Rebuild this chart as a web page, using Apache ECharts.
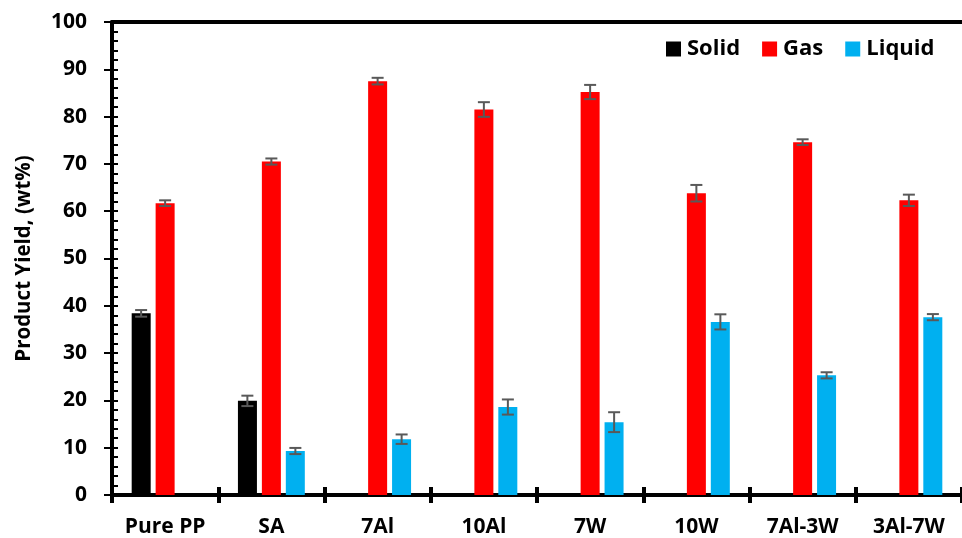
<!DOCTYPE html>
<html>
<head>
<meta charset="utf-8">
<script src="https://cdn.jsdelivr.net/npm/echarts@6/dist/echarts.min.js"></script>
<style>
  html, body { margin: 0; padding: 0; background: #fff; }
  #chart { width: 962px; height: 538px; }
</style>
</head>
<body>
<div id="chart"></div>
<script>
// Product yields (wt%) for each catalyst, with standard deviations
const categories = ['Pure PP', 'SA', '7Al', '10Al', '7W', '10W', '7Al-3W', '3Al-7W'];
const solid    = [38.4, 19.9, '-', '-', '-', '-', '-', '-'];
const solidErr = [0.7, 1.1, '-', '-', '-', '-', '-', '-'];
const gas      = [61.7, 70.5, 87.5, 81.5, 85.2, 63.8, 74.6, 62.3];
const gasErr   = [0.6, 0.65, 0.7, 1.55, 1.5, 1.75, 0.6, 1.2];
const liquid   = ['-', 9.3, 11.8, 18.6, 15.4, 36.6, 25.3, 37.6];
const liquidErr= ['-', 0.65, 1.0, 1.6, 2.1, 1.6, 0.65, 0.65];
const yTicks = { min: 0, max: 100, interval: 10 };

const FONT = 'Open Sans';
const BAR_W = 19;
const BAR_STEP = 24; // bar width + gap between bars in a group

function errorSeries(name, values, errs, slot) {
  const data = values.map((v, i) => (v === '-' ? null : [i, v, errs[i]])).filter(Boolean);
  return {
    type: 'custom',
    name: name + ' error',
    xAxisIndex: 0,
    yAxisIndex: 0,
    z: 5,
    silent: true,
    data: data,
    renderItem: function (params, api) {
      const i = api.value(0), v = api.value(1), e = api.value(2);
      const hi = api.coord([i, v + e]);
      const lo = api.coord([i, v - e]);
      const x = hi[0] + slot * BAR_STEP;
      const cap = 6;
      const style = { stroke: '#595959', lineWidth: 2 };
      return {
        type: 'group',
        children: [
          { type: 'line', shape: { x1: x, y1: hi[1], x2: x, y2: lo[1] }, style: style },
          { type: 'line', shape: { x1: x - cap, y1: hi[1], x2: x + cap, y2: hi[1] }, style: style },
          { type: 'line', shape: { x1: x - cap, y1: lo[1], x2: x + cap, y2: lo[1] }, style: style }
        ]
      };
    }
  };
}

const chart = echarts.init(document.getElementById('chart'), null, { renderer: 'canvas' });

const labelStyle = { color: '#000', fontFamily: FONT, fontWeight: 'bold', fontSize: 21 };

chart.setOption({
  animation: false,
  backgroundColor: '#fff',
  grid: { left: 112, top: 22, width: 861, height: 473, containLabel: false },
  legend: {
    left: 661,
    top: 33,
    icon: 'rect',
    itemWidth: 15,
    itemHeight: 15,
    itemGap: 22,
    data: ['Solid', 'Gas', 'Liquid'],
    textStyle: { color: '#000', fontFamily: FONT, fontWeight: 'bold', fontSize: 22, padding: [0, 0, 0, 1] }
  },
  xAxis: [
    {
      type: 'category',
      data: categories,
      position: 'bottom',
      axisLine: { show: true, lineStyle: { color: '#000', width: 4 } },
      axisTick: { show: true, interval: 0, length: 8, lineStyle: { color: '#000', width: 4 } },
      axisLabel: Object.assign({ interval: 0, margin: 22 }, labelStyle),
      splitLine: { show: false }
    },
    {
      type: 'category',
      data: categories,
      position: 'bottom',
      axisLine: { show: false },
      axisTick: { show: true, inside: true, interval: 0, length: 8, lineStyle: { color: '#000', width: 4 } },
      axisLabel: { show: false },
      splitLine: { show: false }
    },
    {
      type: 'category',
      data: categories,
      position: 'top',
      axisLine: { show: true, lineStyle: { color: '#000', width: 4 } },
      axisTick: { show: false },
      axisLabel: { show: false },
      splitLine: { show: false }
    }
  ],
  yAxis: [
    {
      type: 'value',
      min: yTicks.min, max: yTicks.max, interval: yTicks.interval,
      name: 'Product Yield, (wt%)',
      nameLocation: 'middle',
      nameGap: 77,
      nameRotate: 90,
      nameTextStyle: { color: '#000', fontFamily: FONT, fontWeight: 'bold', fontSize: 20.5 },
      axisLine: { show: true, lineStyle: { color: '#000', width: 4 } },
      axisTick: { show: true, length: 8, lineStyle: { color: '#000', width: 2 } },
      axisLabel: Object.assign({ margin: 25 }, labelStyle),
      splitLine: { show: false }
    },
    {
      type: 'value',
      min: yTicks.min, max: yTicks.max, interval: yTicks.interval,
      position: 'left',
      axisLine: { show: false },
      axisTick: { show: true, inside: true, length: 6, lineStyle: { color: '#000', width: 2 } },
      minorTick: { show: true, splitNumber: 5, length: 6, lineStyle: { color: '#000', width: 2 } },
      axisLabel: { show: false },
      splitLine: { show: false }
    }
  ],
  series: [
    { type: 'bar', name: 'Solid', data: solid, barWidth: BAR_W, barGap: '26%', itemStyle: { color: '#000000' }, xAxisIndex: 0, yAxisIndex: 0 },
    { type: 'bar', name: 'Gas', data: gas, barWidth: BAR_W, barGap: '26%', itemStyle: { color: '#FF0000' }, xAxisIndex: 0, yAxisIndex: 0 },
    { type: 'bar', name: 'Liquid', data: liquid, barWidth: BAR_W, barGap: '26%', itemStyle: { color: '#00B0F0' }, xAxisIndex: 0, yAxisIndex: 0 },
    errorSeries('Solid', solid, solidErr, -1),
    errorSeries('Gas', gas, gasErr, 0),
    errorSeries('Liquid', liquid, liquidErr, 1)
  ]
});
</script>
</body>
</html>
